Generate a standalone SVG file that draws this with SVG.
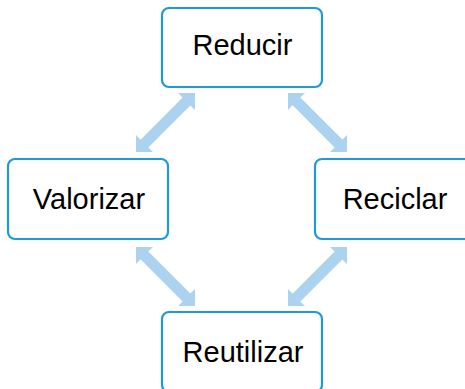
<svg xmlns="http://www.w3.org/2000/svg" width="465" height="389" viewBox="0 0 465 389">
<style>
.box{fill:#ffffff;stroke:#1E9BD7;stroke-width:2.2}
.lbl{font-family:"Liberation Sans",Arial,sans-serif;font-size:29px;fill:#000000;text-anchor:middle}
.arr{fill:#ABD2EE}
</style>
<defs>
<polygon id="dbl" points="0,0 12,-12 12,-5.5 71.4,-5.5 71.4,-12 83.4,0 71.4,12 71.4,5.5 12,5.5 12,12"/>
</defs>
<rect width="465" height="389" fill="#ffffff"/>
<g id="connectors" class="arr">
<use href="#dbl" transform="translate(136,152) rotate(-45)"/>
<use href="#dbl" transform="translate(288,93) rotate(45)"/>
<use href="#dbl" transform="translate(136,247) rotate(45)"/>
<use href="#dbl" transform="translate(288,306) rotate(-45)"/>
</g>
<g id="reducir">
<rect class="box" x="162" y="8" width="160" height="79" rx="7"/>
<text class="lbl" x="242.5" y="55">Reducir</text>
</g>
<g id="valorizar">
<rect class="box" x="8" y="159" width="160" height="80" rx="7"/>
<text class="lbl" x="89" y="209">Valorizar</text>
</g>
<g id="reciclar">
<rect class="box" x="315" y="159" width="160" height="80" rx="7"/>
<text class="lbl" x="395" y="209">Reciclar</text>
</g>
<g id="reutilizar">
<rect class="box" x="162" y="312" width="160" height="80" rx="7"/>
<text class="lbl" x="243" y="362">Reutilizar</text>
</g>
</svg>
